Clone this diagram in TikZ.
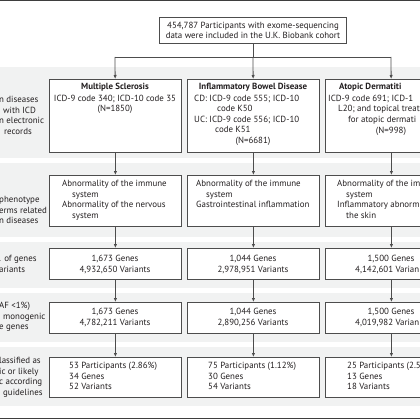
\documentclass[tikz,border=0pt]{standalone}
\usepackage{fontspec}
\setmainfont{PT Sans}
\usetikzlibrary{arrows.meta}
\definecolor{band}{HTML}{F1F2F2}
\definecolor{ink}{HTML}{231F20}
\definecolor{edge}{HTML}{4D4D4D}
\begin{document}
\begin{tikzpicture}[x=1pt,y=-1pt,
  box/.style={draw=edge,line width=0.8pt,fill=white,minimum width=132pt,inner sep=0pt,anchor=north west},
  txt/.style={font=\fontsize{8.9}{10.6}\selectfont,text=ink,inner sep=0pt},
  lbl/.style={txt,align=left,anchor=north west},
  arr/.style={draw=edge,line width=0.8pt,-{Latex[length=4pt,width=3.4pt]}},
  ln/.style={draw=edge,line width=0.8pt},
  rule/.style={draw=edge!80!black,line width=1pt}]
\useasboundingbox (0,0) rectangle (420,420);
\clip (0,0) rectangle (420,420);
% bands
\fill[band] (0,67) rectangle (420,158);
\fill[band] (0,163) rectangle (420,237);
\fill[band] (0,242) rectangle (420,288);
\fill[band] (0,293) rectangle (420,342);
\fill[band] (0,347) rectangle (420,406);
\draw[rule] (0,0.5) -- (420,0.5);
\draw[rule] (0,418.5) -- (420,418.5);
% top box
\node[box,anchor=center,minimum width=187pt,minimum height=26pt] (top) at (253,30.5) {};
\node[txt,align=center] (toptxt) at (top.center) {454,787 Participants with exome-sequencing\\data were included in the U.K. Biobank cohort};
% row 1
\node[box,minimum height=73pt] (ms1) at (49,79) {};
\node[box,minimum height=73pt] (ibd1) at (187,79) {};
\node[box,minimum height=73pt] (ad1) at (325,79) {};
\node[txt,align=center,anchor=north] (ms1t) at (115,83) {\textbf{Multiple Sclerosis}\\[1pt]ICD-9 code 340; ICD-10 code 35\\(N=1850)};
\node[txt,align=center,anchor=north] (ibd1h) at (253,83) {\textbf{Inflammatory Bowel Disease}};
\node[txt,align=left,anchor=north west] (ibd1t) at (194,94.5) {CD: ICD-9 code 555; ICD-10\\\hspace*{23pt}code K50\\UC: ICD-9 code 556; ICD-10\\\hspace*{21pt}code K51};
\node[txt,anchor=north] (ibd1n) at (253,137) {(N=6681)};
\node[txt,align=left,anchor=north west] (ad1t) at (339,83) {\textbf{Atopic Dermatiti}};
\node[txt,align=left,anchor=north west] (ad1u) at (328,94.5) {ICD-9 code 691; ICD-1\\\hspace*{10pt}L20; and topical treat\\\hspace*{20pt}for atopic dermati};
\node[txt,anchor=north] (ad1n) at (391,126.5) {(N=998)};
% row 2
\node[box,minimum height=51pt] (ms2) at (49,175) {};
\node[box,minimum height=51pt] (ibd2) at (187,175) {};
\node[box,minimum height=51pt] (ad2) at (325,175) {};
\node[txt,align=left,anchor=north west] (ms2t) at (62,180) {Abnormality of the immune\\\hspace*{10pt}system\\Abnormality of the nervous\\\hspace*{10pt}system};
\node[txt,align=left,anchor=north west] (ibd2t) at (196,180) {Abnormality of the immune\\\hspace*{10pt}system\\Gastrointestinal inflammation};
\node[txt,align=left,anchor=north west] (ad2t) at (337,180) {Abnormality of the im\\\hspace*{9pt}system\\Inflammatory abnorm\\\hspace*{9pt}the skin};
% row 3
\node[box,minimum height=31pt] (ms3) at (49,248) {};
\node[box,minimum height=31pt] (ibd3) at (187,248) {};
\node[box,minimum height=31pt] (ad3) at (325,248) {};
\node[txt,align=center,anchor=north] (ms3t) at (115,255) {1,673 Genes\\4,932,650 Variants};
\node[txt,align=center,anchor=north] (ibd3t) at (253,255) {1,044 Genes\\2,978,951 Variants};
\node[txt,align=center,anchor=north] (ad3g) at (391,255) {1,500 Genes};
\node[txt,anchor=north west] (ad3v) at (355,265.5) {4,142,601 Varian};
% row 4
\node[box,minimum height=31pt] (ms4) at (49,302) {};
\node[box,minimum height=31pt] (ibd4) at (187,302) {};
\node[box,minimum height=31pt] (ad4) at (325,302) {};
\node[txt,align=center,anchor=north] (ms4t) at (115,308) {1,673 Genes\\4,782,211 Variants};
\node[txt,align=center,anchor=north] (ibd4t) at (253,308) {1,044 Genes\\2,890,256 Variants};
\node[txt,align=center,anchor=north] (ad4g) at (391,308) {1,500 Genes};
\node[txt,anchor=north west] (ad4v) at (355,318.5) {4,019,982 Varian};
% row 5
\node[box,minimum height=40pt] (ms5) at (49,357) {};
\node[box,minimum height=40pt] (ibd5) at (187,357) {};
\node[box,minimum height=40pt] (ad5) at (325,357) {};
\node[txt,align=left,anchor=north west] (ms5t) at (69,362) {53 Participants (2.86\%)\\34 Genes\\52 Variants};
\node[txt,align=left,anchor=north west] (ibd5t) at (208,362) {75 Participants (1.12\%)\\30 Genes\\54 Variants};
\node[txt,align=left,anchor=north west] (ad5t) at (347,362) {25 Participants (2.5\\13 Genes\\18 Variants};
% left labels
\node[lbl] (lab1) at (-1,96) {n diseases\\\hspace*{4pt}with ICD\\n electronic\\\hspace*{5pt}records};
\node[lbl] (lab2) at (-1,196) {phenotype\\erms related\\n diseases};
\node[lbl] (lab3) at (-1,255) {. of genes\\ariants};
\node[lbl] (lab4) at (-1,302) {AF <1\%)\\\hspace*{4pt}monogenic\\e genes};
\node[lbl] (lab5) at (-1,357) {lassified as\\ic or likely\\c according\\\hspace*{4pt}guidelines};
% connectors
\coordinate (split) at (253,57);
\coordinate (left) at (115,57);
\coordinate (right) at (391,57);
\draw[ln] (top) -- (split);
\draw[ln] (left) -- (right);
\draw[arr] (left) -- (ms1);
\draw[arr] (split) -- (ibd1);
\draw[arr] (right) -- (ad1);
\foreach \c in {ms,ibd,ad}{
  \draw[arr] (\c1) -- (\c2);
  \draw[arr] (\c2) -- (\c3);
  \draw[arr] (\c3) -- (\c4);
  \draw[arr] (\c4) -- (\c5);
}
\end{tikzpicture}
\end{document}
